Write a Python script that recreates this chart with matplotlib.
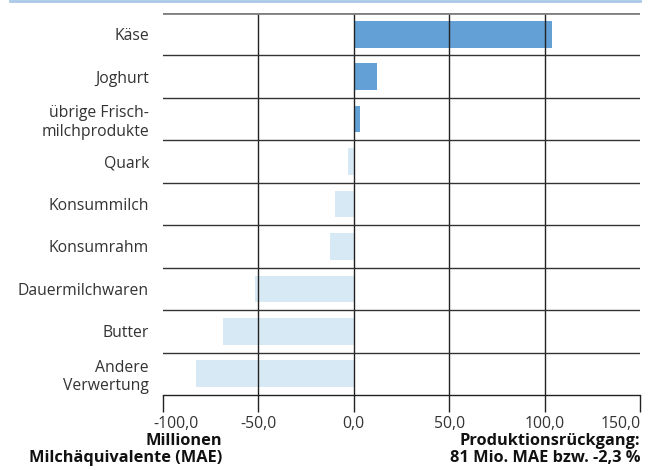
import numpy as np
import matplotlib.pyplot as plt
from matplotlib.transforms import ScaledTranslation

plt.rcParams['font.family'] = ['Open Sans', 'DejaVu Sans']

# Veraenderung je Verwertung, Mio. MAE
kategorien = ["Käse", "Joghurt", "übrige Frisch-\nmilchprodukte", "Quark",
              "Konsummilch", "Konsumrahm", "Dauermilchwaren", "Butter",
              "Andere\nVerwertung"]
werte = [103.7, 12.3, 3.0, -3.2, -9.6, -12.7, -51.6, -68.4, -82.6]
xticks = [-100, -50, 0, 50, 100, 150]
xlabels = ["-100,0", "-50,0", "0,0", "50,0", "100,0", "150,0"]

pos_farbe = "#62a0d6"
neg_farbe = "#d8e9f6"
text_farbe = "#333333"

fig = plt.figure(figsize=(6.55, 4.70), dpi=100)
ax = fig.add_axes([163 / 655, 1 - 395 / 470, (640 - 163) / 655, (395 - 13) / 470])

y = np.arange(len(kategorien))
farben = [pos_farbe if v > 0 else neg_farbe for v in werte]
ax.barh(y, werte, height=0.63, color=farben, zorder=1)

ax.set_xlim(-100, 150)
ax.set_ylim(len(kategorien) - 0.5, -0.5)

# Gitter
for gx in [-50, 0, 50, 100]:
    ax.axvline(gx, color="#222222", lw=1.0, zorder=3)
for gy in np.arange(0.5, len(kategorien) - 0.5, 1):
    ax.axhline(gy, color="#333333", lw=1.0, zorder=3)
ax.axhline(-0.5, color="#7f7f7f", lw=2.0, zorder=3)

for s in ["top", "right", "left"]:
    ax.spines[s].set_visible(False)
ax.spines["bottom"].set_color("#222222")
ax.spines["bottom"].set_linewidth(1.0)
ax.spines["bottom"].set_zorder(4)

ax.set_xticks(xticks)
ax.set_xticklabels(xlabels, fontsize=11.3, color=text_farbe)
ax.tick_params(axis="x", length=12, width=1.0, color="#222222", pad=3)
# aeussere Beschriftungen nach innen ruecken
tl = ax.get_xticklabels()
tl[0].set_horizontalalignment("left")
tl[0].set_transform(tl[0].get_transform() + ScaledTranslation(-0.10, 0, fig.dpi_scale_trans))
tl[-1].set_horizontalalignment("right")
tl[-1].set_transform(tl[-1].get_transform() + ScaledTranslation(0.01, 0, fig.dpi_scale_trans))

ax.set_yticks(y)
ax.set_yticklabels(kategorien, fontsize=11.3, color=text_farbe, ha="right",
                   linespacing=1.2)
ax.tick_params(axis="y", length=0, pad=10)

# Linie oben
fig.add_artist(plt.Line2D([10 / 655, 640 / 655], [1 - 1 / 470, 1 - 1 / 470],
                          color="#a9c9e9", lw=2.0))

fig.text(222 / 655, 1 - 433 / 470, "Millionen\nMilchäquivalente (MAE)",
         ha="right", va="top", fontsize=11.8, fontweight="bold",
         color="#111111", multialignment="right", linespacing=1.12)
fig.text(640 / 655, 1 - 433 / 470, "Produktionsrückgang:\n81 Mio. MAE bzw. -2,3 %",
         ha="right", va="top", fontsize=11.8, fontweight="bold",
         color="#111111", multialignment="right", linespacing=1.12)

fig.savefig("out.png", dpi=100)
